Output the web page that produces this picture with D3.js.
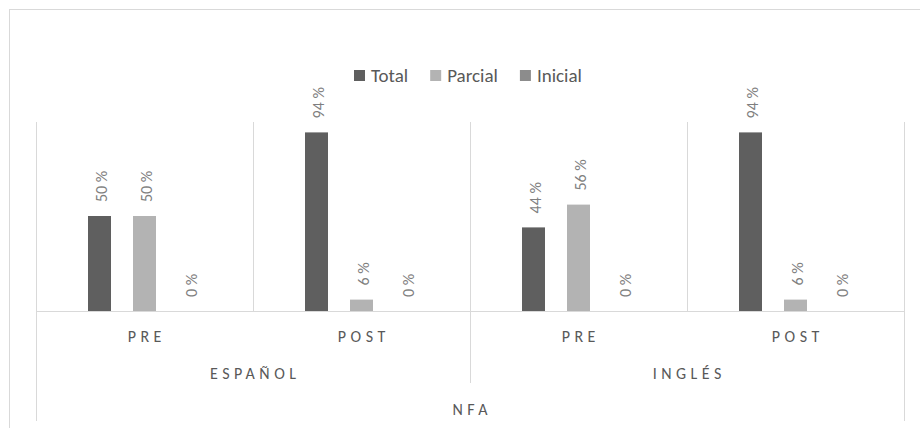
<!DOCTYPE html>
<html>
<head>
<meta charset="utf-8">
<script src="https://cdn.jsdelivr.net/npm/d3@7"></script>
<style>
  html, body { margin: 0; padding: 0; background: #fff; }
  svg { display: block; font-family: Carlito, Calibri, Lato, sans-serif; }
</style>
</head>
<body>
<svg id="chart" width="920" height="428"></svg>
<script>
// Category levels of the multi-level axis
const categories = ["PRE", "POST", "PRE", "POST"];
const groups = ["ESPAÑOL", "INGLÉS"];
const topLevel = ["NFA"];

// Series and their values (share of students)
const series = ["Total", "Parcial", "Inicial"];
const totalValues = [0.50, 0.94, 0.44, 0.94];
const parcialValues = [0.50, 0.06, 0.56, 0.06];
const inicialValues = [0.00, 0.00, 0.00, 0.00];

const colors = { Total: "#5f5f5f", Parcial: "#b3b3b3", Inicial: "#8c8c8c" };
const valuesBySeries = { Total: totalValues, Parcial: parcialValues, Inicial: inicialValues };

const svg = d3.select("#chart");
const gridColor = "#d9d9d9";
const textColor = "#595959";
const plot = { left: 36, right: 904, top: 121, bottom: 311 };

// Chart frame
svg.append("rect")
  .attr("x", 9.5).attr("y", 9.5)
  .attr("width", 930).attr("height", 440)
  .attr("fill", "none").attr("stroke", gridColor);

const idx = categories.map((_, i) => i);
const x0 = d3.scaleBand().domain(idx).range([plot.left, plot.right]).paddingInner(0).paddingOuter(0);
const x1 = d3.scalePoint().domain(series).range([-45, 45]);
const barW = 23;
const y = d3.scaleLinear().domain([0, 1]).range([plot.bottom, plot.top]);

// Vertical separators inside the plot area, extended through the axis levels
const seps = d3.range(categories.length + 1).map(i => plot.left + i * x0.step());
svg.append("g").selectAll("line").data(seps).join("line")
  .attr("x1", d => Math.round(d) + 0.5).attr("x2", d => Math.round(d) + 0.5)
  .attr("y1", plot.top + 1)
  .attr("y2", (d, i) => {
    if (i === 0 || i === seps.length - 1) return 421;
    if (i === categories.length / 2) return 383;
    return plot.bottom;
  })
  .attr("stroke", gridColor).attr("stroke-width", 1);

// Baseline
svg.append("line")
  .attr("x1", plot.left).attr("x2", plot.right)
  .attr("y1", plot.bottom + 0.5).attr("y2", plot.bottom + 0.5)
  .attr("stroke", gridColor);

// Bars
const rows = [];
idx.forEach(i => series.forEach(s => rows.push({ i, s, v: valuesBySeries[s][i] })));

const cx = d => x0(d.i) + x0.bandwidth() / 2 + x1(d.s);

svg.append("g").selectAll("rect").data(rows.filter(d => d.v > 0)).join("rect")
  .attr("x", d => cx(d) - barW / 2)
  .attr("y", d => y(d.v))
  .attr("width", barW)
  .attr("height", d => y(0) - y(d.v))
  .attr("fill", d => colors[d.s]);

// Value labels, rotated
svg.append("g").selectAll("text").data(rows).join("text")
  .attr("transform", d => `translate(${cx(d) + 7},${y(d.v) - 14}) rotate(-90)`)
  .attr("text-anchor", "start")
  .attr("font-size", 16)
  .attr("fill", "#7f7f7f")
  .text(d => Math.round(d.v * 100) + " %");

// First axis level (PRE / POST)
const ls = 4.5;
const axisFont = 16;
const axis = d3.axisBottom(x0).tickSize(0).tickPadding(0).tickFormat(i => categories[i]);
const ax = svg.append("g").attr("transform", `translate(0,${plot.bottom})`).call(axis);
ax.select(".domain").remove();
ax.selectAll("text")
  .attr("y", 31).attr("dy", 0)
  .attr("dx", ls / 2)
  .attr("font-size", axisFont)
  .attr("font-family", "Carlito, Calibri, Lato, sans-serif")
  .attr("letter-spacing", ls)
  .attr("fill", textColor);

// Second axis level (language groups)
const per = categories.length / groups.length;
svg.append("g").selectAll("text").data(groups).join("text")
  .attr("x", (d, g) => plot.left + (g + 0.5) * per * x0.step() + ls / 2)
  .attr("y", 379)
  .attr("text-anchor", "middle")
  .attr("font-size", axisFont)
  .attr("letter-spacing", ls)
  .attr("fill", textColor)
  .text(d => d);

// Top axis level
svg.append("text")
  .attr("x", (plot.left + plot.right) / 2 + ls / 2)
  .attr("y", 415)
  .attr("text-anchor", "middle")
  .attr("font-size", axisFont)
  .attr("letter-spacing", ls)
  .attr("fill", textColor)
  .text(topLevel[0]);

// Legend
const legend = svg.append("g").attr("transform", "translate(354,70)");
let lx = 0;
series.forEach(s => {
  const g = legend.append("g").attr("transform", `translate(${lx},0)`);
  g.append("rect").attr("width", 11).attr("height", 11).attr("fill", colors[s]);
  const t = g.append("text").attr("x", 17).attr("y", 12)
    .attr("font-size", 19).attr("fill", textColor).text(s);
  lx += 17 + t.node().getComputedTextLength() + 22;
});
</script>
</body>
</html>
